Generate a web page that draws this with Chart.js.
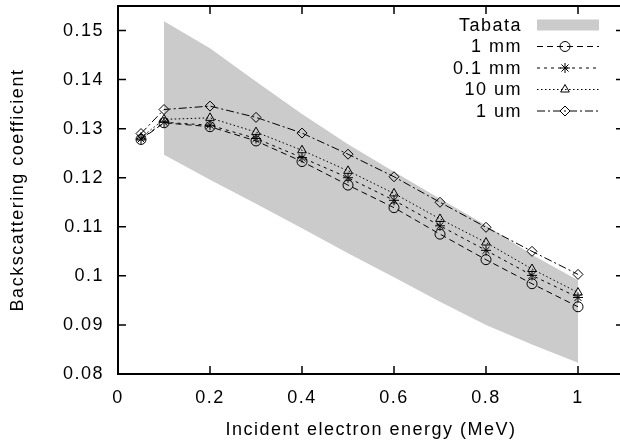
<!DOCTYPE html>
<html>
<head>
<meta charset="utf-8">
<script src="https://cdn.jsdelivr.net/npm/chart.js@4/dist/chart.umd.min.js"></script>
<style>
  html, body { margin: 0; padding: 0; background: #fff; overflow: hidden; width: 620px; height: 448px; }
  canvas { display: block; }
</style>
</head>
<body>
<canvas id="chart" width="630" height="448"></canvas>
<script>
/* values */
const energies = [0.05, 0.1, 0.2, 0.3, 0.4, 0.5, 0.6, 0.7, 0.8, 0.9, 1.0];
const bandEnergies = [0.1, 0.2, 0.3, 0.4, 0.5, 0.6, 0.7, 0.8, 0.9, 1.0];
const tabataLow  = [0.1247, 0.1196, 0.1147, 0.1097, 0.1046, 0.0997, 0.0947, 0.0900, 0.0860, 0.0823];
const tabataHigh = [0.1519, 0.1464, 0.1396, 0.1330, 0.1268, 0.1212, 0.1157, 0.1103, 0.1043, 0.0991];
const thick1mm  = [0.1278, 0.1312, 0.1304, 0.1275, 0.1233, 0.1185, 0.1139, 0.1085, 0.1033, 0.0984, 0.0937];
const thick01mm = [0.1279, 0.1313, 0.1307, 0.1280, 0.1241, 0.1200, 0.1154, 0.1102, 0.1052, 0.1001, 0.0956];
const thick10um = [0.1282, 0.1319, 0.1322, 0.1293, 0.1256, 0.1214, 0.1168, 0.1116, 0.1068, 0.1014, 0.0966];
const thick1um  = [0.1290, 0.1339, 0.1346, 0.1323, 0.1291, 0.1248, 0.1202, 0.1150, 0.1099, 0.1050, 0.1003];

const xTickLabels = ['0', '0.2', '0.4', '0.6', '0.8', '1'];
const yTickLabels = ['0.08', '0.09', '0.1', '0.11', '0.12', '0.13', '0.14', '0.15'];

const FONT = "'Liberation Sans', Arial, sans-serif";
const BAND = '#cbcbcb';

const pts = (xs, ys) => xs.map((x, i) => ({x: x, y: ys[i]}));
const fmt = v => String(Number(v.toFixed(3)));

function series(label, data, dash, style) {
  return {
    label: label,
    data: pts(energies, data),
    borderColor: '#000',
    borderWidth: 1,
    borderDash: dash,
    pointStyle: style,
    pointRadius: 5,
    pointBorderWidth: 1,
    pointBorderColor: '#000',
    pointBackgroundColor: 'rgba(0,0,0,0)',
    fill: false,
    tension: 0,
    order: 0
  };
}

const datasets = [
  series('1 mm', thick1mm, [6, 4], 'circle'),
  series('0.1 mm', thick01mm, [3, 4], 'star'),
  series('10 um', thick10um, [1.5, 2.5], 'triangle'),
  series('1 um', thick1um, [8, 3, 2, 3], 'rectRot'),
  {
    label: 'Tabata low', data: pts(bandEnergies, tabataLow),
    borderWidth: 0, pointRadius: 0, borderColor: BAND, fill: false, order: 10
  },
  {
    label: 'Tabata', data: pts(bandEnergies, tabataHigh),
    borderWidth: 0, pointRadius: 0, borderColor: BAND, backgroundColor: BAND,
    fill: '-1', order: 9
  }
];

// gnuplot-like frame, inward mirror ticks and key
const gnuplotLook = {
  id: 'gnuplotLook',
  beforeUpdate(chart) { chart.ctx.letterSpacing = '1.5px'; },
  beforeDraw(chart) { chart.ctx.letterSpacing = '1.5px'; },
  afterDatasetsDraw(chart) {
    const ctx = chart.ctx;
    const a = chart.chartArea;
    const xs = chart.scales.x, ys = chart.scales.y;
    ctx.save();
    ctx.strokeStyle = '#000';
    ctx.setLineDash([]);
    ctx.lineWidth = 2;
    ctx.strokeRect(a.left, a.top, a.right - a.left, a.bottom - a.top);
    ctx.lineWidth = 1.5;
    ctx.beginPath();
    xs.ticks.forEach(t => {
      const px = xs.getPixelForValue(t.value);
      ctx.moveTo(px, a.bottom); ctx.lineTo(px, a.bottom - 8);
      ctx.moveTo(px, a.top); ctx.lineTo(px, a.top + 8);
    });
    ys.ticks.forEach(t => {
      const py = ys.getPixelForValue(t.value);
      ctx.moveTo(a.left, py); ctx.lineTo(a.left + 8, py);
      ctx.moveTo(a.right, py); ctx.lineTo(a.right - 8, py);
    });
    ctx.stroke();

    // key
    const textRight = 522, x0 = 537, x1 = 599, xm = 565;
    const rowY = [25, 46.5, 68, 89.5, 111];
    const keys = [datasets[5], datasets[0], datasets[1], datasets[2], datasets[3]];
    ctx.font = '18px ' + FONT;
    ctx.textAlign = 'right';
    ctx.textBaseline = 'middle';
    keys.forEach((ds, i) => {
      const y = rowY[i];
      ctx.fillStyle = '#000';
      ctx.fillText(ds.label, textRight, y + 1);
      if (i === 0) {
        ctx.fillStyle = BAND;
        ctx.fillRect(x0, y - 5.5, x1 - x0, 11);
        return;
      }
      ctx.strokeStyle = '#000';
      ctx.lineWidth = 1;
      ctx.setLineDash(ds.borderDash);
      ctx.beginPath();
      ctx.moveTo(x0, y); ctx.lineTo(x1, y);
      ctx.stroke();
      ctx.setLineDash([]);
      ctx.fillStyle = 'rgba(0,0,0,0)';
      Chart.helpers.drawPoint(ctx, {
        pointStyle: ds.pointStyle, radius: ds.pointRadius, borderWidth: 1, rotation: 0
      }, xm, y);
    });
    ctx.restore();
  }
};

new Chart(document.getElementById('chart'), {
  type: 'line',
  data: { datasets: datasets },
  plugins: [gnuplotLook],
  options: {
    responsive: false,
    animation: false,
    events: [],
    layout: { padding: { top: 4, right: 2, bottom: 0, left: 0 } },
    plugins: { legend: { display: false }, tooltip: { enabled: false } },
    scales: {
      x: {
        type: 'linear', min: 0, max: 1.1,
        grid: { display: false, drawTicks: false }, border: { display: false },
        afterFit(s) {
          s.height = 74;
          s.paddingLeft = 0; s.paddingRight = 0; s.paddingTop = 0; s.paddingBottom = 0;
        },
        afterBuildTicks(s) { s.ticks = xTickLabels.map(v => ({value: Number(v)})); },
        ticks: {
          color: '#000', font: { family: FONT, size: 18 }, padding: 13,
          maxRotation: 0, autoSkip: false, callback: v => fmt(v)
        },
        title: {
          display: true, text: 'Incident electron energy (MeV)', color: '#000',
          font: { family: FONT, size: 18 }, padding: { top: 0, bottom: 7 }
        }
      },
      y: {
        type: 'linear', min: 0.08, max: 0.155,
        grid: { display: false, drawTicks: false }, border: { display: false },
        afterFit(s) {
          s.width = 118;
          s.paddingLeft = 0; s.paddingRight = 0; s.paddingTop = 0; s.paddingBottom = 0;
        },
        afterBuildTicks(s) { s.ticks = yTickLabels.map(v => ({value: Number(v)})); },
        ticks: {
          color: '#000', font: { family: FONT, size: 18 }, padding: 14,
          autoSkip: false, callback: v => fmt(v)
        },
        title: {
          display: true, text: 'Backscattering coefficient', color: '#000',
          font: { family: FONT, size: 18 }, padding: { top: 7, bottom: 0 }
        }
      }
    }
  }
});
</script>
</body>
</html>
